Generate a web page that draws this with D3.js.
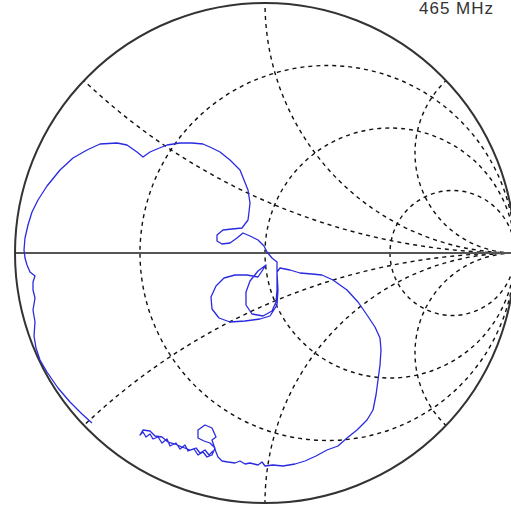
<!DOCTYPE html>
<html><head><meta charset="utf-8">
<script src="https://cdn.jsdelivr.net/npm/d3@7"></script>
<style>html,body{margin:0;padding:0;background:#fff;overflow:hidden}</style>
</head><body>
<svg id="chart" width="511" height="507"></svg>
<script>
// Smith chart grid values
const resistanceCircles = [1/3, 1, 3];
const reactanceArcs = [0.4, 1, 2.5, -0.4, -1, -2.5];
const markerLabel = "465 MHz";

// Reflection coefficient trace (real / imaginary parts)
const gammaRe = [
-0.692,-0.732,-0.780,-0.828,-0.872,-0.900,-0.916,-0.924,-0.920,-0.928,
-0.920,-0.928,-0.928,-0.920,-0.940,-0.952,-0.960,-0.964,-0.960,-0.948,
-0.932,-0.908,-0.872,-0.820,-0.768,-0.712,-0.660,-0.592,-0.552,-0.512,
-0.488,-0.460,-0.432,-0.392,-0.340,-0.292,-0.248,-0.212,-0.180,-0.140,
-0.100,-0.084,-0.068,-0.060,-0.064,-0.068,-0.092,-0.132,-0.168,-0.192,
-0.192,-0.172,-0.140,-0.112,-0.088,-0.060,-0.028,-0.004,0.008,0.028,
0.048,0.048,0.048,0.044,0.028,-0.008,-0.052,-0.076,-0.076,-0.060,
-0.028,0.004,-0.028,-0.072,-0.120,-0.164,-0.196,-0.216,-0.212,-0.184,
-0.140,-0.080,-0.020,0.020,0.048,0.052,0.048,0.060,0.100,0.140,
0.188,0.228,0.272,0.328,0.372,0.408,0.440,0.460,0.464,0.460,
0.452,0.444,0.432,0.408,0.368,0.328,0.292,0.248,0.204,0.160,
0.120,0.072,0.032,0.000,-0.012,-0.028,-0.060,-0.080,-0.100,-0.120,
-0.148,-0.172,-0.188,-0.196,-0.204,-0.212,-0.196,-0.212,-0.240,-0.268,
-0.268,-0.244,-0.220,-0.200,-0.212,-0.232,-0.248,-0.268,-0.284,-0.308,
-0.320,-0.340,-0.356,-0.380,-0.392,-0.412,-0.428,-0.448,-0.460,-0.476,
-0.488,-0.500,-0.488,-0.460,-0.440,-0.412,-0.388,-0.360,-0.332,-0.300,
-0.276,-0.260,-0.240,-0.224,-0.208
];
const gammaIm = [
-0.680,-0.644,-0.596,-0.540,-0.476,-0.428,-0.380,-0.332,-0.276,-0.228,
-0.180,-0.148,-0.116,-0.092,-0.076,-0.048,-0.020,0.012,0.060,0.112,
0.164,0.212,0.268,0.332,0.380,0.412,0.436,0.440,0.432,0.404,
0.384,0.404,0.416,0.432,0.440,0.440,0.436,0.420,0.404,0.372,
0.332,0.292,0.252,0.200,0.164,0.132,0.100,0.096,0.092,0.072,
0.048,0.036,0.040,0.060,0.080,0.068,0.052,0.028,0.004,-0.020,
-0.036,-0.092,-0.148,-0.196,-0.232,-0.252,-0.244,-0.208,-0.156,-0.112,
-0.072,-0.048,-0.096,-0.088,-0.088,-0.100,-0.132,-0.176,-0.224,-0.260,
-0.276,-0.272,-0.264,-0.252,-0.208,-0.148,-0.076,-0.060,-0.068,-0.080,
-0.084,-0.088,-0.108,-0.148,-0.196,-0.248,-0.296,-0.340,-0.388,-0.448,
-0.508,-0.568,-0.628,-0.668,-0.708,-0.740,-0.772,-0.788,-0.812,-0.832,
-0.844,-0.852,-0.848,-0.852,-0.836,-0.848,-0.840,-0.844,-0.832,-0.840,
-0.836,-0.832,-0.816,-0.796,-0.772,-0.748,-0.736,-0.700,-0.688,-0.708,
-0.740,-0.752,-0.760,-0.780,-0.808,-0.816,-0.796,-0.808,-0.784,-0.792,
-0.768,-0.784,-0.760,-0.772,-0.744,-0.760,-0.736,-0.744,-0.724,-0.736,
-0.716,-0.728,-0.708,-0.712,-0.732,-0.736,-0.756,-0.764,-0.776,-0.788,
-0.780,-0.800,-0.788,-0.808,-0.792
];

const svg = d3.select("#chart");
const cx = 265, cy = 253, R = 250;
const xs = d3.scaleLinear().domain([-1, 1]).range([cx - R, cx + R]);
const ys = d3.scaleLinear().domain([-1, 1]).range([cy + R, cy - R]);
const len = v => xs(v) - xs(0);

svg.append("rect").attr("width", 511).attr("height", 507).attr("fill", "#fff");

svg.append("defs").append("clipPath").attr("id", "unit")
  .append("circle").attr("cx", xs(0)).attr("cy", ys(0)).attr("r", len(1));

const grid = svg.append("g").attr("clip-path", "url(#unit)")
  .attr("fill", "none").attr("stroke", "#111").attr("stroke-width", 1.4)
  .attr("stroke-dasharray", "4,4");

grid.selectAll("circle.r").data(resistanceCircles).join("circle")
  .attr("class", "r")
  .attr("cx", r => xs(r / (1 + r)))
  .attr("cy", ys(0))
  .attr("r", r => len(1 / (1 + r)));

grid.selectAll("circle.x").data(reactanceArcs).join("circle")
  .attr("class", "x")
  .attr("cx", xs(1))
  .attr("cy", x => ys(1 / x))
  .attr("r", x => len(1 / Math.abs(x)));

// real axis
svg.append("line")
  .attr("x1", xs(-1)).attr("x2", xs(1))
  .attr("y1", ys(0)).attr("y2", ys(0))
  .attr("stroke", "#555").attr("stroke-width", 2);

// outer circle
svg.append("circle").attr("cx", xs(0)).attr("cy", ys(0)).attr("r", len(1))
  .attr("fill", "none").attr("stroke", "#333").attr("stroke-width", 2);

// trace
const pts = gammaRe.map((re, i) => [re, gammaIm[i]]);
svg.append("path").datum(pts)
  .attr("d", d3.line().x(d => xs(d[0])).y(d => ys(d[1])))
  .attr("fill", "none").attr("stroke", "#2a2ae0").attr("stroke-width", 1.3)
  .attr("stroke-linejoin", "round");

svg.append("text").attr("x", 419).attr("y", 14)
  .attr("font-family", "Liberation Sans, Arial, sans-serif")
  .attr("font-size", 17).attr("letter-spacing", 1).attr("fill", "#333")
  .text(markerLabel);
</script>
</body></html>
